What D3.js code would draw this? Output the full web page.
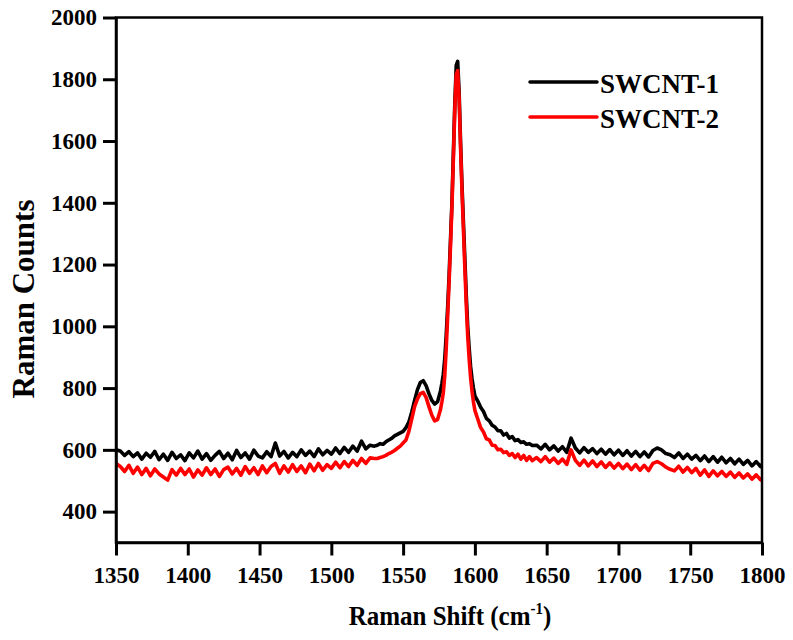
<!DOCTYPE html>
<html>
<head>
<meta charset="utf-8">
<script src="https://cdn.jsdelivr.net/npm/d3@7"></script>
<style>
  html, body { margin: 0; padding: 0; background: #fff; }
</style>
</head>
<body>
<svg id="chart" width="793" height="640"></svg>
<script>
// ---- Data ----
const seriesNames = ["SWCNT-1", "SWCNT-2"];
const seriesColors = ["#000000", "#ff0000"];

const shift = [
  1350,1353,1356,1359,1362,1365,1368,1371,1374,1377,1380,1383,1386,1389,1392,1395,1398,1401,1404,1407,
  1410,1413,1416,1419,1422,1425,1428,1431,1434,1437,1440,1443,1446,1449,1452,1455,1458,1461,1464,1467,
  1470,1473,1476,1479,1482,1485,1488,1491,1494,1497,1500,1503,1506,1509,1512,1515,1518,1521,1524,1527,1530,
  1532,1534,1536,1538,1540,1542,1544,1546,1548,1550,1552,1554,1556,1558,1560,1562,1564,1566,1568,1570,1572,1574,1576,
  1577,1578,1579,1580,1581,1582,1583,1584,1585,1586,1587,1588,1589,1590,1591,1592,1593,1594,1595,1596,1597,1598,1599,1600,
  1602,1604,1606,1608,1610,1612,1614,1616,1618,1620,1622,1624,1626,1628,1630,1632,1634,1636,1638,1640,
  1643,1646,1649,1652,1655,1658,1661,1664,1667,1670,1673,1676,1679,1682,1685,1688,1691,1694,1697,1700,
  1703,1706,1709,1712,1715,1718,1721,1724,1727,1730,1733,1736,1739,1742,1745,1748,1751,1754,1757,1760,
  1763,1766,1769,1772,1775,1778,1781,1784,1787,1790,1793,1796,1799,1800
];

const swcnt1 = [
  600,596,582,594,578,590,570,589,576,595,568,586,566,592,572,584,565,590,574,596,
  570,588,566,582,595,572,589,568,598,575,590,570,599,580,574,594,578,622,580,595,
  574,592,578,600,582,596,578,603,584,598,586,606,588,608,592,612,596,628,603,615,612,
  615,620,618,626,632,637,645,650,655,660,672,690,722,760,795,818,824,808,782,760,748,756,790,
  815,845,895,970,1060,1160,1280,1400,1560,1720,1845,1858,1760,1600,1460,1340,1220,1100,1000,930,870,830,800,775,
  758,738,724,702,694,680,674,662,662,648,653,638,643,630,633,624,626,618,620,614,
  615,603,618,600,613,596,610,592,638,606,590,607,592,604,588,602,586,601,584,599,
  582,597,580,595,578,593,577,598,606,600,588,584,575,590,572,586,570,582,565,580,
  562,578,560,576,558,572,555,570,553,566,548,562,546,553
];

const swcnt2 = [
  556,546,530,550,524,544,520,540,516,538,522,512,502,536,518,540,520,538,512,535,
  518,542,520,538,514,536,544,522,540,518,546,524,542,520,548,526,546,556,524,548,
  528,552,530,548,526,554,532,556,534,552,540,560,542,562,546,566,550,572,556,574,572,
  572,575,578,582,588,592,598,605,612,622,632,660,700,740,765,782,786,770,740,712,694,698,730,
  755,785,840,925,1030,1140,1260,1385,1540,1700,1815,1828,1740,1580,1440,1315,1190,1070,970,895,835,790,755,728,
  700,672,658,636,632,615,614,600,602,591,594,582,588,575,586,570,582,566,578,565,
  575,562,578,560,573,556,570,553,600,566,550,567,548,564,546,561,543,558,541,556,
  539,554,536,552,534,550,533,556,562,555,544,537,532,547,528,543,526,540,518,535,
  514,532,516,530,514,528,511,525,509,522,505,519,503,510
];

const xTicks = [1350,1400,1450,1500,1550,1600,1650,1700,1750,1800];
const yTicks = [400,600,800,1000,1200,1400,1600,1800,2000];
const xDomain = [1350, 1800];
const yDomain = [300, 2000];
const xTitle = "Raman Shift (cm";
const xTitleSup = "-1";
const yTitle = "Raman Counts";

// ---- Layout ----
const FONT = "'Liberation Serif', 'Times New Roman', 'DejaVu Serif', serif";
const svg = d3.select("#chart");
const pLeft = 116, pRight = 762, pTop = 17.5, pBottom = 542.5;

const x = d3.scaleLinear().domain(xDomain).range([pLeft, pRight]);
const y = d3.scaleLinear().domain(yDomain).range([pBottom, pTop]);

svg.append("defs").append("clipPath").attr("id", "plotClip")
  .append("rect").attr("x", pLeft).attr("y", pTop).attr("width", pRight - pLeft).attr("height", pBottom - pTop);

// data lines
const line = d3.line().x((d, i) => x(shift[i])).y(d => y(d));
const plot = svg.append("g").attr("clip-path", "url(#plotClip)");
[swcnt1, swcnt2].forEach((s, k) => {
  plot.append("path")
    .datum(s)
    .attr("d", line)
    .attr("fill", "none")
    .attr("stroke", seriesColors[k])
    .attr("stroke-width", 3.6)
    .attr("stroke-linejoin", "round");
});

// frame
svg.append("rect")
  .attr("x", pLeft).attr("y", pTop).attr("width", pRight - pLeft).attr("height", pBottom - pTop)
  .attr("fill", "none").attr("stroke", "#000").attr("stroke-width", 2.5);

// axes
const xAxis = d3.axisBottom(x).tickValues(xTicks).tickSize(13).tickSizeOuter(0).tickPadding(10).tickFormat(d3.format("d"));
const gx = svg.append("g").attr("transform", `translate(0,${pBottom})`).call(xAxis);
gx.attr("font-family", FONT).attr("font-size", 23).attr("font-weight", "bold");
gx.select(".domain").attr("stroke-width", 2.5);
gx.selectAll(".tick line").attr("stroke-width", 3);
gx.selectAll(".tick text").attr("fill", "#000").attr("dy", "0.75em");

const yAxis = d3.axisLeft(y).tickValues(yTicks).tickSize(13).tickSizeOuter(0).tickPadding(6).tickFormat(d3.format("d"));
const gy = svg.append("g").attr("transform", `translate(${pLeft},0)`).call(yAxis);
gy.attr("font-family", FONT).attr("font-size", 23).attr("font-weight", "bold");
gy.select(".domain").attr("stroke-width", 2.5);
gy.selectAll(".tick line").attr("stroke-width", 3);
gy.selectAll(".tick text").attr("fill", "#000");

// titles
const xt = svg.append("text")
  .attr("transform", "translate(450,625) scale(1,1.1)")
  .attr("text-anchor", "middle")
  .attr("font-family", FONT).attr("font-weight", "bold")
  .attr("font-size", 25);
xt.append("tspan").text(xTitle);
xt.append("tspan").attr("dy", -10).attr("font-size", 15).text(xTitleSup);
xt.append("tspan").attr("dy", 10).text(")");

svg.append("text")
  .attr("transform", "translate(34,299) rotate(-90)")
  .attr("text-anchor", "middle")
  .attr("font-family", FONT).attr("font-weight", "bold")
  .attr("font-size", 31)
  .text(yTitle);

// legend
const legend = svg.append("g");
seriesNames.forEach((name, k) => {
  const ly = 82 + k * 35;
  legend.append("line")
    .attr("x1", 530).attr("x2", 597).attr("y1", ly).attr("y2", ly)
    .attr("stroke", seriesColors[k]).attr("stroke-width", 3.5).attr("stroke-linecap", "round");
  legend.append("text")
    .attr("x", 600).attr("y", ly + 11)
    .attr("font-family", FONT).attr("font-weight", "bold")
    .attr("font-size", 27)
    .text(name);
});
</script>
</body>
</html>
